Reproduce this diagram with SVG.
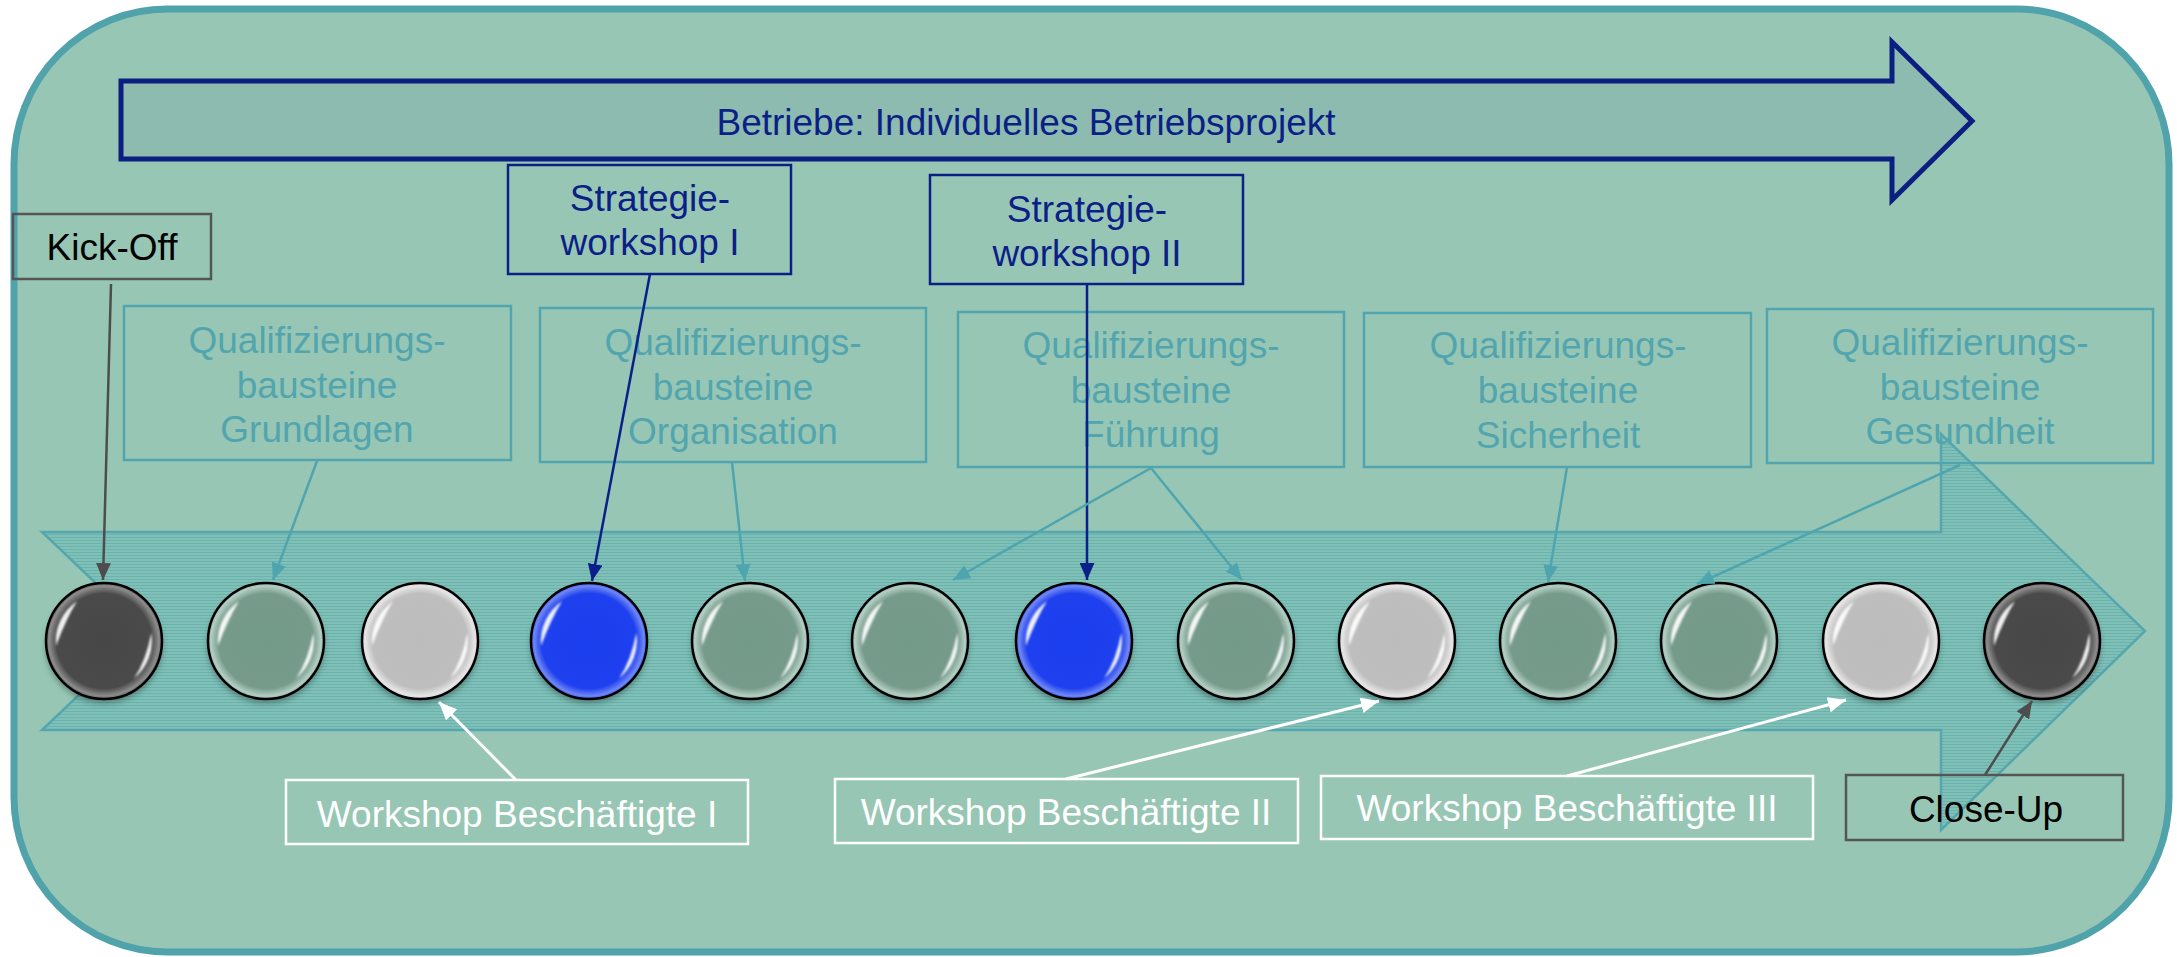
<svg xmlns="http://www.w3.org/2000/svg" xmlns:xlink="http://www.w3.org/1999/xlink" width="2177" height="957" viewBox="0 0 2177 957">
<style>
text{font-family:"Liberation Sans",Arial,sans-serif;font-size:37px;text-anchor:middle}
.q rect{fill:none;stroke:#52A5AE;stroke-width:2.5}
.q text{fill:#52A5AE}
.s rect{fill:none;stroke:#0C1F86;stroke-width:2.5}
.s text{fill:#0C1F86}
.w rect{fill:none;stroke:#FFFFFF;stroke-width:2.5}
.w text{fill:#FFFFFF}
.g rect{fill:none;stroke:#555555;stroke-width:2.5}
.g text{fill:#000000}
.c-teal{stroke:#4FA5AF;stroke-width:2.5;fill:none;marker-end:url(#mTeal)}
.c-navy{stroke:#0A1F8A;stroke-width:2.5;fill:none;marker-end:url(#mNavy)}
.c-white{stroke:#FFFFFF;stroke-width:3;fill:none;marker-end:url(#mWhite)}
.c-gray{stroke:#4D4D4D;stroke-width:2.5;fill:none;marker-end:url(#mGray)}
.ring{fill:none;stroke:#000;stroke-width:2.5}
.hl{fill:#FFFFFF;opacity:0.92}
</style>
<defs>
<pattern id="hatch" width="4" height="3" patternUnits="userSpaceOnUse">
<rect width="4" height="3" fill="#7FC0B8"/>
<rect width="4" height="1" fill="#68B1AE"/>
</pattern>
<filter id="blur3" x="-30%" y="-30%" width="160%" height="160%"><feGaussianBlur stdDeviation="3"/></filter>
<filter id="blur1" x="-30%" y="-30%" width="160%" height="160%"><feGaussianBlur stdDeviation="0.9"/></filter>
<radialGradient id="gDark"><stop offset="0" stop-color="#474747"/><stop offset="0.82" stop-color="#4a4a4a"/><stop offset="0.95" stop-color="#8d8d8d"/><stop offset="1" stop-color="#5a5a5a"/></radialGradient>
<radialGradient id="gGreen"><stop offset="0" stop-color="#739988"/><stop offset="0.82" stop-color="#769B8B"/><stop offset="0.95" stop-color="#B3CEC3"/><stop offset="1" stop-color="#8FAEA1"/></radialGradient>
<radialGradient id="gLight"><stop offset="0" stop-color="#BCBCBC"/><stop offset="0.82" stop-color="#BEBEBE"/><stop offset="0.95" stop-color="#E6E6E6"/><stop offset="1" stop-color="#CCCCCC"/></radialGradient>
<radialGradient id="gBlue"><stop offset="0" stop-color="#1B3EEE"/><stop offset="0.82" stop-color="#1E40EE"/><stop offset="0.95" stop-color="#6F87F4"/><stop offset="1" stop-color="#3A57F0"/></radialGradient>
<g id="gloss">
<path class="hl" filter="url(#blur1)" d="M -48 5 A 48 48 0 0 1 -27 -39.7 Q -38 -22 -48 5 Z"/>
<path class="hl" filter="url(#blur1)" d="M 47.3 -8 A 48 48 0 0 1 30 37.4 Q 42 20 47.3 -8 Z"/>
<circle class="ring" r="58"/>
</g>
<ellipse id="shadow" cx="0" cy="5" rx="58" ry="57" fill="#000" opacity="0.35" filter="url(#blur3)"/>
<marker id="mTeal" viewBox="0 0 16 14" markerWidth="17" markerHeight="15" refX="16" refY="7" orient="auto" markerUnits="userSpaceOnUse"><path d="M0 0 L16 7 L0 14 Z" fill="#4FA5AF"/></marker>
<marker id="mNavy" viewBox="0 0 16 14" markerWidth="17" markerHeight="15" refX="16" refY="7" orient="auto" markerUnits="userSpaceOnUse"><path d="M0 0 L16 7 L0 14 Z" fill="#0A1F8A"/></marker>
<marker id="mWhite" viewBox="0 0 16 14" markerWidth="18" markerHeight="16" refX="16" refY="7" orient="auto" markerUnits="userSpaceOnUse"><path d="M0 0 L16 7 L0 14 Z" fill="#FFFFFF"/></marker>
<marker id="mGray" viewBox="0 0 16 14" markerWidth="17" markerHeight="15" refX="16" refY="7" orient="auto" markerUnits="userSpaceOnUse"><path d="M0 0 L16 7 L0 14 Z" fill="#4D4D4D"/></marker>
</defs>

<rect x="0" y="0" width="2177" height="957" fill="#FFFFFF"/>
<rect id="frame" x="14" y="9" width="2155" height="943" rx="153" ry="155" fill="#97C7B4" stroke="#50A2AB" stroke-width="7"/>

<path id="timeline-arrow" d="M 42 532 L 1941 532 L 1941 434 L 2145 631 L 1941 830 L 1941 730 L 42 730 L 146 631 Z" fill="url(#hatch)" stroke="#52A5AE" stroke-width="2.5" opacity="0.95"/>

<g id="betriebe">
<path d="M 121 81 L 1892 81 L 1892 42 L 1972 121 L 1892 200 L 1892 159 L 121 159 Z" fill="#8DBBB0" stroke="#0B1F80" stroke-width="5"/>
<text x="1026" y="135" fill="#0C1F86">Betriebe: Individuelles Betriebsprojekt</text>
</g>

<g id="kickoff" class="g">
<rect x="13" y="214" width="198" height="65"/>
<text x="112" y="260">Kick-Off</text>
</g>
<g id="strategie1" class="s">
<rect x="508" y="165" width="283" height="109"/>
<text x="650" y="211">Strategie-</text>
<text x="650" y="255">workshop I</text>
</g>
<g id="strategie2" class="s">
<rect x="930" y="175" width="313" height="109"/>
<text x="1087" y="222">Strategie-</text>
<text x="1087" y="266">workshop II</text>
</g>

<g id="q-grundlagen" class="q">
<rect x="124" y="306" width="387" height="154"/>
<text x="317" y="353">Qualifizierungs-</text>
<text x="317" y="398">bausteine</text>
<text x="317" y="442">Grundlagen</text>
</g>
<g id="q-organisation" class="q">
<rect x="540" y="308" width="386" height="154"/>
<text x="733" y="355">Qualifizierungs-</text>
<text x="733" y="400">bausteine</text>
<text x="733" y="444">Organisation</text>
</g>
<g id="q-fuehrung" class="q">
<rect x="958" y="312" width="386" height="155"/>
<text x="1151" y="358">Qualifizierungs-</text>
<text x="1151" y="403">bausteine</text>
<text x="1151" y="447">Führung</text>
</g>
<g id="q-sicherheit" class="q">
<rect x="1364" y="313" width="387" height="154"/>
<text x="1558" y="358">Qualifizierungs-</text>
<text x="1558" y="403">bausteine</text>
<text x="1558" y="448">Sicherheit</text>
</g>
<g id="q-gesundheit" class="q">
<rect x="1767" y="309" width="386" height="154"/>
<text x="1960" y="355">Qualifizierungs-</text>
<text x="1960" y="400">bausteine</text>
<text x="1960" y="444">Gesundheit</text>
</g>

<g id="ws1" class="w">
<rect x="286" y="780" width="462" height="64"/>
<text x="517" y="827">Workshop Beschäftigte I</text>
</g>
<g id="ws2" class="w">
<rect x="835" y="779" width="463" height="64"/>
<text x="1066" y="825">Workshop Beschäftigte II</text>
</g>
<g id="ws3" class="w">
<rect x="1321" y="776" width="492" height="63"/>
<text x="1567" y="821">Workshop Beschäftigte III</text>
</g>
<g id="closeup" class="g">
<rect x="1846" y="775" width="277" height="65"/>
<text x="1986" y="822">Close-Up</text>
</g>

<g id="m1" transform="translate(104,641)"><use href="#shadow"/><circle r="58" fill="url(#gDark)"/><use href="#gloss"/></g>
<g id="m2" transform="translate(266,641)"><use href="#shadow"/><circle r="58" fill="url(#gGreen)"/><use href="#gloss"/></g>
<g id="m3" transform="translate(420,641)"><use href="#shadow"/><circle r="58" fill="url(#gLight)"/><use href="#gloss"/></g>
<g id="m4" transform="translate(589,641)"><use href="#shadow"/><circle r="58" fill="url(#gBlue)"/><use href="#gloss"/></g>
<g id="m5" transform="translate(750,641)"><use href="#shadow"/><circle r="58" fill="url(#gGreen)"/><use href="#gloss"/></g>
<g id="m6" transform="translate(910,641)"><use href="#shadow"/><circle r="58" fill="url(#gGreen)"/><use href="#gloss"/></g>
<g id="m7" transform="translate(1074,641)"><use href="#shadow"/><circle r="58" fill="url(#gBlue)"/><use href="#gloss"/></g>
<g id="m8" transform="translate(1236,641)"><use href="#shadow"/><circle r="58" fill="url(#gGreen)"/><use href="#gloss"/></g>
<g id="m9" transform="translate(1397,641)"><use href="#shadow"/><circle r="58" fill="url(#gLight)"/><use href="#gloss"/></g>
<g id="m10" transform="translate(1558,641)"><use href="#shadow"/><circle r="58" fill="url(#gGreen)"/><use href="#gloss"/></g>
<g id="m11" transform="translate(1719,641)"><use href="#shadow"/><circle r="58" fill="url(#gGreen)"/><use href="#gloss"/></g>
<g id="m12" transform="translate(1881,641)"><use href="#shadow"/><circle r="58" fill="url(#gLight)"/><use href="#gloss"/></g>
<g id="m13" transform="translate(2042,641)"><use href="#shadow"/><circle r="58" fill="url(#gDark)"/><use href="#gloss"/></g>

<g id="connectors">
<line class="c-gray" x1="111" y1="284" x2="103" y2="580"/>
<line class="c-teal" x1="317" y1="461" x2="273" y2="580"/>
<line class="c-navy" x1="650" y1="274" x2="592" y2="581"/>
<line class="c-teal" x1="732" y1="462" x2="745" y2="581"/>
<line class="c-navy" x1="1087" y1="284" x2="1087" y2="580"/>
<line class="c-teal" x1="1151" y1="468" x2="953" y2="580"/>
<line class="c-teal" x1="1151" y1="468" x2="1242" y2="580"/>
<line class="c-teal" x1="1567" y1="467" x2="1548" y2="582"/>
<line class="c-teal" x1="1960" y1="465" x2="1697" y2="584"/>
<line class="c-white" x1="516" y1="780" x2="439" y2="702"/>
<line class="c-white" x1="1066" y1="779" x2="1379" y2="701"/>
<line class="c-white" x1="1567" y1="776" x2="1846" y2="700"/>
<line class="c-gray" x1="1985" y1="775" x2="2032" y2="701"/>
</g>
</svg>
